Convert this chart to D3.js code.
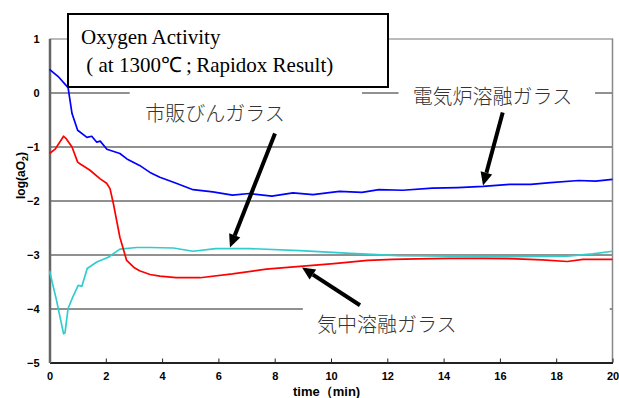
<!DOCTYPE html>
<html>
<head>
<meta charset="utf-8">
<script src="https://cdn.jsdelivr.net/npm/d3@7"></script>
<style>
  body { margin: 0; background: #fff; }
  svg { display: block; }
</style>
</head>
<body>
<script>
// electric furnace melted glass (blue)
var furnaceTime = [0, 0.3, 0.66, 0.8, 1.0, 1.33, 1.5, 1.68, 1.8, 2.04, 2.5, 2.75, 3.2, 3.57, 3.92, 4.5, 5.1, 5.8, 6.5, 7.1, 7.9, 8.65, 9.36, 10.3, 11.1, 11.7, 12.55, 13.6, 14.5, 15.4, 16.35, 17.1, 17.8, 18.8, 19.4, 20];
var furnaceVal  = [0.43, 0.3, 0.09, -0.39, -0.70, -0.83, -0.81, -0.92, -0.90, -1.05, -1.13, -1.23, -1.35, -1.48, -1.57, -1.68, -1.8, -1.84, -1.9, -1.87, -1.92, -1.86, -1.89, -1.83, -1.85, -1.80, -1.81, -1.77, -1.76, -1.74, -1.70, -1.70, -1.67, -1.63, -1.64, -1.61];

// air melted glass (red)
var airTime = [0, 0.2, 0.5, 0.6, 0.8, 1.0, 1.08, 1.44, 1.8, 2.03, 2.15, 2.27, 2.5, 2.74, 3.0, 3.2, 3.57, 3.92, 4.5, 5.35, 6.5, 7.7, 8.9, 10.1, 11.3, 12.2, 13.05, 14.2, 15.4, 16.6, 17.5, 18.4, 18.95, 20];
var airVal  = [-1.13, -1.05, -0.81, -0.86, -1.01, -1.29, -1.32, -1.44, -1.6, -1.68, -1.78, -2.06, -2.68, -3.11, -3.24, -3.3, -3.37, -3.4, -3.43, -3.43, -3.36, -3.27, -3.22, -3.17, -3.11, -3.09, -3.08, -3.07, -3.07, -3.08, -3.1, -3.13, -3.09, -3.09];

// commercial bottle glass (cyan)
var bottleTime = [0, 0.25, 0.5, 0.55, 0.66, 0.85, 1.02, 1.15, 1.34, 1.68, 2.09, 2.5, 3.1, 3.57, 4.4, 5.1, 5.9, 7.1, 8.9, 10.7, 12.4, 14.2, 16.6, 18.4, 19.3, 20];
var bottleVal  = [-3.3, -3.85, -4.47, -4.45, -4.0, -3.76, -3.57, -3.59, -3.26, -3.14, -3.05, -2.9, -2.87, -2.87, -2.88, -2.94, -2.89, -2.89, -2.93, -2.98, -3.02, -3.03, -3.04, -3.03, -2.99, -2.94];

var xTicks = [0, 2, 4, 6, 8, 10, 12, 14, 16, 18, 20];
var yTicks = [1, 0, -1, -2, -3, -4, -5];

var titleLines = ["Oxygen Activity", " ( at 1300\u2103\u2009;\u2009Rapidox Result)"];

// label text, anchor (t, v), arrow tail (t, v), arrow tip (t, v)
var labelNames = ["市販びんガラス", "電気炉溶融ガラス", "気中溶融ガラス"];
var labelPos   = [[3.4, -0.52], [12.9, -0.22], [9.5, -4.43]];
var arrowFrom  = [[8.01, -0.76], [16.1, -0.37], [11.03, -3.94]];
var arrowTo    = [[6.41, -2.87], [15.4, -1.72], [8.97, -3.24]];

var margin = {top: 38.5, right: 6.5, bottom: 35.5, left: 49.5},
    width = 619 - margin.left - margin.right,
    height = 398 - margin.top - margin.bottom;

var svg = d3.select("body").append("svg")
    .attr("width", 619)
    .attr("height", 398)
  .append("g")
    .attr("transform", "translate(" + margin.left + "," + margin.top + ")");

var x = d3.scaleLinear().domain([0, 20]).range([0, width]);
var y = d3.scaleLinear().domain([-5, 1]).range([height, 0]);

// grid lines
svg.append("g")
  .selectAll("line")
  .data(yTicks.filter(function(d) { return d > -5; }))
  .enter().append("line")
    .attr("x1", 0).attr("x2", width)
    .attr("y1", function(d) { return Math.round(y(d)) + 0.5; })
    .attr("y2", function(d) { return Math.round(y(d)) + 0.5; })
    .attr("stroke", function(d) { return d == 1 ? "#777" : "#222"; })
    .attr("stroke-width", 1);

// white boxes behind the labels (they hide the grid)
svg.append("rect").attr("x", x(2.85)).attr("y", y(0.07)).attr("width", x(11.1) - x(2.85)).attr("height", 35).attr("fill", "#fff");
svg.append("rect").attr("x", x(12.4)).attr("y", y(0.22)).attr("width", x(19.38) - x(12.4)).attr("height", 30).attr("fill", "#fff");
svg.append("rect").attr("x", x(9.0)).attr("y", y(-3.88)).attr("width", x(19.9) - x(9.0)).attr("height", 44).attr("fill", "#fff");

// frame
svg.append("line").attr("x1", width).attr("x2", width).attr("y1", 0).attr("y2", height)
    .attr("stroke", "#888").attr("stroke-width", 1.5);

var xAxis = svg.append("g")
    .attr("transform", "translate(0," + height + ")")
    .call(d3.axisBottom(x).tickValues(xTicks).tickSizeInner(-4).tickSizeOuter(0).tickPadding(10));
xAxis.select(".domain").attr("stroke", "#222").attr("stroke-width", 2);
xAxis.selectAll(".tick line").attr("stroke", "#222");
xAxis.selectAll("text")
    .attr("font-family", "Liberation Sans, Arial, sans-serif")
    .attr("font-size", 11).attr("font-weight", "bold").attr("fill", "#000");

var yAxis = svg.append("g")
    .call(d3.axisLeft(y).tickValues(yTicks).tickSize(0).tickPadding(10)
      .tickFormat(function(d) { return d < 0 ? "\u2212" + Math.abs(d) : d; }));
yAxis.select(".domain").attr("stroke", "#666").attr("stroke-width", 2.5);
yAxis.selectAll("text")
    .attr("font-family", "Liberation Sans, Arial, sans-serif")
    .attr("font-size", 11).attr("font-weight", "bold").attr("fill", "#000");

// series
var series = [
  {t: bottleTime, v: bottleVal, color: "#33cccc"},
  {t: airTime, v: airVal, color: "#ff0000"},
  {t: furnaceTime, v: furnaceVal, color: "#0000ff"}
];

var line = d3.line()
    .x(function(d) { return x(d[0]); })
    .y(function(d) { return y(d[1]); });

svg.selectAll(".series")
  .data(series)
  .enter().append("path")
    .attr("class", "series")
    .attr("fill", "none")
    .attr("stroke", function(d) { return d.color; })
    .attr("stroke-width", 1.7)
    .attr("stroke-linejoin", "round")
    .attr("d", function(d) { return line(d3.zip(d.t, d.v)); });

// title box
var tb = svg.append("g").attr("transform", "translate(" + (68 - margin.left) + "," + (14 - margin.top) + ")");
tb.append("rect").attr("width", 320).attr("height", 73)
    .attr("fill", "#fff").attr("stroke", "#000").attr("stroke-width", 2);
tb.selectAll("text")
  .data(titleLines)
  .enter().append("text")
    .attr("x", 13)
    .attr("y", function(d, i) { return 30 + i * 28; })
    .attr("font-family", "Liberation Serif, Times New Roman, serif")
    .attr("font-size", 21)
    .attr("fill", "#000")
    .attr("xml:space", "preserve")
    .text(function(d) { return d; });

// labels
svg.selectAll(".lab")
  .data(labelNames)
  .enter().append("text")
    .attr("class", "lab")
    .attr("x", function(d, i) { return x(labelPos[i][0]); })
    .attr("y", function(d, i) { return y(labelPos[i][1]); })
    .attr("font-family", "Noto Sans CJK JP, sans-serif")
    .attr("font-size", 20)
    .attr("font-weight", 300)
    .attr("fill", "#333")
    .text(function(d) { return d; });

// arrows
var arrows = svg.selectAll(".arrow")
  .data(labelNames)
  .enter().append("g").attr("class", "arrow");
arrows.each(function(d, i) {
  var x0 = x(arrowFrom[i][0]), y0 = y(arrowFrom[i][1]),
      x1 = x(arrowTo[i][0]), y1 = y(arrowTo[i][1]);
  var a = Math.atan2(y1 - y0, x1 - x0), L = 13, W = 6;
  var bx = x1 - L * Math.cos(a), by = y1 - L * Math.sin(a);
  var g = d3.select(this);
  g.append("line").attr("x1", x0).attr("y1", y0).attr("x2", bx).attr("y2", by)
      .attr("stroke", "#000").attr("stroke-width", 4);
  g.append("path")
      .attr("d", "M" + x1 + "," + y1 +
        "L" + (bx + W * Math.sin(a)) + "," + (by - W * Math.cos(a)) +
        "L" + (bx - W * Math.sin(a)) + "," + (by + W * Math.cos(a)) + "Z")
      .attr("fill", "#000");
});

// axis titles
svg.append("text")
    .attr("x", 293 - margin.left).attr("y", 396 - margin.top)
    .attr("font-family", "Liberation Sans, Arial, sans-serif")
    .attr("font-size", 13).attr("font-weight", "bold")
    .text("time\uff08min)");

var yl = svg.append("text")
    .attr("transform", "translate(" + (25 - margin.left) + "," + (199 - margin.top) + ") rotate(-90)")
    .attr("font-family", "Liberation Sans, Arial, sans-serif")
    .attr("font-size", 12).attr("font-weight", "bold");
yl.append("tspan").text("log(aO");
yl.append("tspan").attr("font-size", 9).attr("dy", 3).text("2");
yl.append("tspan").attr("dy", -3).text(")");
</script>
</body>
</html>
